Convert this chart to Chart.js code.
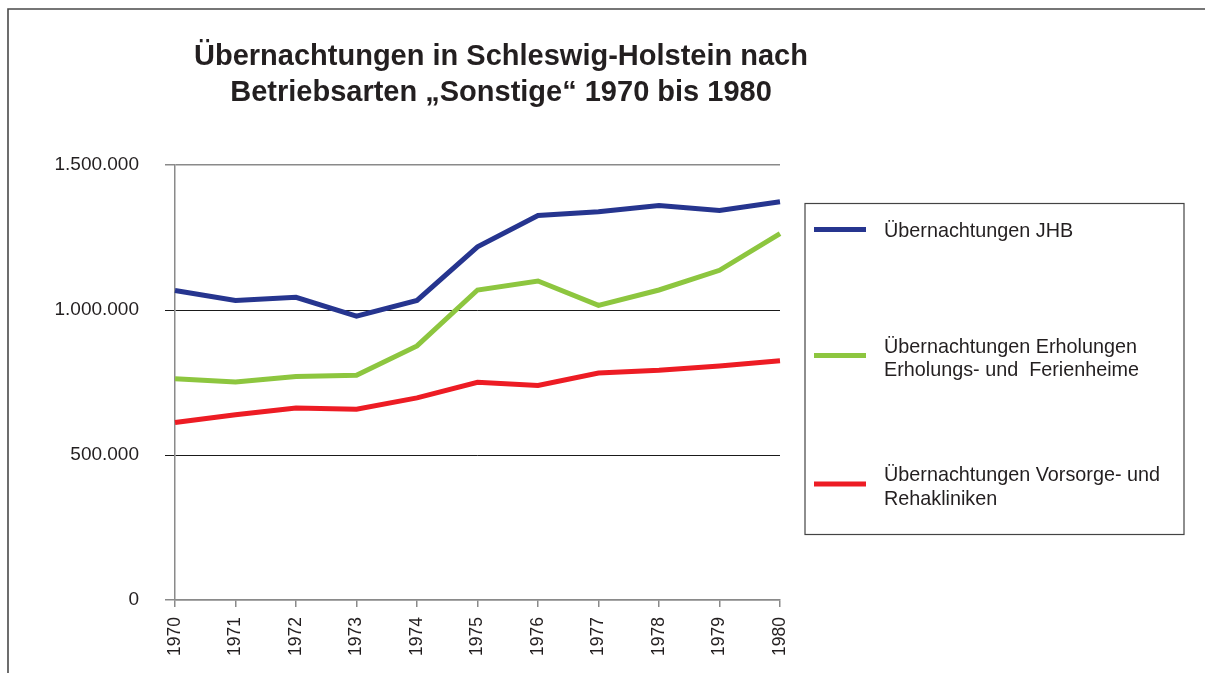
<!DOCTYPE html>
<html>
<head>
<meta charset="utf-8">
<script src="https://cdn.jsdelivr.net/npm/chart.js@4/dist/chart.umd.min.js"></script>
<style>
  html, body { margin: 0; padding: 0; background: #fff; }
  #wrap { position: relative; width: 1205px; height: 673px; overflow: hidden; }
  canvas { display: block; }
</style>
</head>
<body>
<div id="wrap"><canvas id="c" width="1205" height="673"></canvas></div>
<script>
// ---- Data ----
const years = ['1970','1971','1972','1973','1974','1975','1976','1977','1978','1979','1980'];
const jhb       = [1067000, 1033000, 1044000, 979000, 1033000, 1218000, 1326000, 1339000, 1360000, 1343000, 1373000];
const erholung  = [763000, 752000, 771000, 775000, 876000, 1069000, 1100000, 1016000, 1069000, 1137000, 1263000];
const reha      = [612000, 639000, 662000, 658000, 697000, 751000, 740000, 783000, 792000, 807000, 825000];
const yTicks    = [0, 500000, 1000000, 1500000];
const titleLines = ['Übernachtungen in Schleswig-Holstein nach', 'Betriebsarten \u201ESonstige\u201C 1970 bis 1980'];
const legendLines = [
  ['Übernachtungen JHB'],
  ['Übernachtungen Erholungen', 'Erholungs- und  Ferienheime'],
  ['Übernachtungen Vorsorge- und', 'Rehakliniken']
];
const colors = ['#26358f', '#8dc63f', '#ed1c24'];

const FONT = '"Liberation Sans", Arial, Helvetica, sans-serif';
const TEXT = '#231f20';
Chart.defaults.font.family = FONT;
Chart.defaults.color = TEXT;

function fmt(v) {
  return String(v).replace(/\B(?=(\d{3})+(?!\d))/g, '.');
}

const decor = {
  id: 'decor',
  beforeDraw(chart) {
    const ctx = chart.ctx;
    ctx.save();
    ctx.strokeStyle = '#4a4a4a';
    ctx.lineWidth = 1.6;
    ctx.beginPath();
    ctx.moveTo(8, 680);
    ctx.lineTo(8, 9);
    ctx.lineTo(1210, 9);
    ctx.stroke();
    ctx.restore();
  },
  afterDraw(chart) {
    const ctx = chart.ctx;
    ctx.save();
    // Title
    ctx.fillStyle = TEXT;
    ctx.font = 'bold 29px ' + FONT;
    ctx.textAlign = 'center';
    ctx.textBaseline = 'alphabetic';
    const tb = [65, 101];
    titleLines.forEach((t, i) => ctx.fillText(t, 501, tb[i]));

    // Legend box
    ctx.strokeStyle = '#444';
    ctx.lineWidth = 1.2;
    ctx.strokeRect(805, 203.5, 379, 331);
    const sampleY = [229.5, 355.5, 484];
    const baselines = [[236.5], [352.5, 376], [481, 504.5]];
    ctx.textAlign = 'left';
    ctx.font = '19.8px ' + FONT;
    chart.data.datasets.forEach((ds, i) => {
      ctx.strokeStyle = ds.borderColor;
      ctx.lineWidth = 5;
      ctx.lineCap = 'butt';
      ctx.beginPath();
      ctx.moveTo(814, sampleY[i]);
      ctx.lineTo(866, sampleY[i]);
      ctx.stroke();
      ctx.fillStyle = TEXT;
      legendLines[i].forEach((line, j) => ctx.fillText(line, 884, baselines[i][j]));
    });
    ctx.restore();
  }
};

const mk = (label, data, color) => ({
  label: label.join(' '),
  data,
  borderColor: color,
  backgroundColor: color,
  borderWidth: 5,
  pointRadius: 0,
  pointHoverRadius: 0,
  tension: 0,
  fill: false,
  borderJoinStyle: 'miter',
  borderCapStyle: 'butt'
});

new Chart(document.getElementById('c'), {
  type: 'line',
  data: {
    labels: years,
    datasets: [
      mk(legendLines[0], jhb, colors[0]),
      mk(legendLines[1], erholung, colors[1]),
      mk(legendLines[2], reha, colors[2])
    ]
  },
  options: {
    responsive: false,
    animation: false,
    events: [],
    layout: { padding: { top: 165, right: 425, left: 0, bottom: 0 } },
    plugins: {
      legend: { display: false },
      title: { display: false },
      tooltip: { enabled: false }
    },
    scales: {
      x: {
        offset: false,
        grid: { drawOnChartArea: false, drawTicks: true, tickLength: 7, color: '#8a8a8a', lineWidth: 1.5 },
        border: { color: '#8a8a8a', width: 1.5 },
        ticks: { minRotation: 90, maxRotation: 90, autoSkip: false, padding: 10, color: TEXT, font: { size: 17.5 } },
        afterFit(s) { s.height = 73; }
      },
      y: {
        min: 0,
        max: 1500000,
        afterBuildTicks(s) { s.ticks = yTicks.map(v => ({ value: v })); },
        grid: {
          tickLength: 10,
          color: c => (c.tick && (c.tick.value === 1500000 || c.tick.value === 0)) ? '#8a8a8a' : '#1a1a1a',
          lineWidth: c => (c.tick && (c.tick.value === 1500000 || c.tick.value === 0)) ? 1.5 : 1
        },
        border: { color: '#8a8a8a', width: 1.5 },
        ticks: { padding: 26, color: TEXT, font: { size: 19 }, callback: v => fmt(v) },
        afterFit(s) { s.width = 175; }
      }
    }
  },
  plugins: [decor]
});
</script>
</body>
</html>
